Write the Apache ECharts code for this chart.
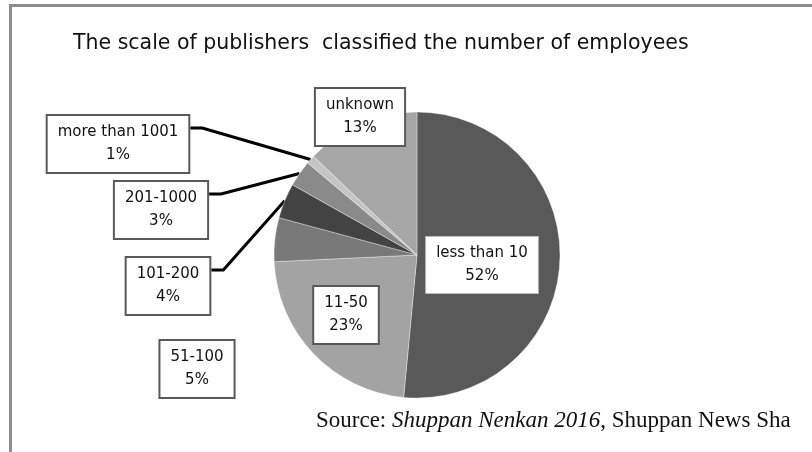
<!DOCTYPE html>
<html>
<head>
<meta charset="utf-8">
<script src="https://cdn.jsdelivr.net/npm/echarts@6/dist/echarts.min.js"></script>
<style>
  html, body { margin: 0; padding: 0; background: #fff; }
  #main { width: 812px; height: 452px; }
</style>
</head>
<body>
<div id="main"></div>
<script>
// data (percent of publishers)
const categories = ['less than 10', '11-50', '51-100', '101-200', '201-1000', 'more than 1001', 'unknown'];
const shares = [52, 23, 5, 4, 3, 1, 13];

// grey shades for the slices, same order as categories
const sliceColors = ['#595959', '#a3a3a3', '#797979', '#434343', '#8a8a8a', '#c4c4c4', '#a6a6a6'];

// where each label box sits (centre of box)
const labelCentres = [[482, 265], [346, 315], [197, 369], [168, 286], [161, 210], [118, 144], [360, 117]];
const withLeader = [3, 4, 5];

const cx = 417, cy = 255, R = 143;
const total = shares.reduce((a, b) => a + b, 0);

function arcPoint(i) {
  let before = 0;
  for (let k = 0; k < i; k++) before += shares[k];
  const a = (before + shares[i] / 2) / total * Math.PI * 2;
  return [cx + R * Math.sin(a), cy - R * Math.cos(a)];
}

let chart = echarts.init(document.getElementById('main'));

const option = {
  animation: false,
  title: {
    text: 'The scale of publishers  classified the number of employees',
    left: 68,
    top: 28,
    textStyle: { fontFamily: 'DejaVu Sans', fontSize: 20.5, fontWeight: 'normal', color: '#111' }
  },
  graphic: [
    {
      type: 'rect',
      shape: { x: 10.5, y: 5.5, width: 900, height: 600 },
      style: { fill: 'none', stroke: '#8c8c8c', lineWidth: 3 }
    },
    {
      type: 'text',
      left: 316,
      top: 409,
      style: {
        text: '{n|Source: }{i|Shuppan Nenkan 2016}{n|, Shuppan News Sha}',
        rich: {
          n: { fontFamily: 'Liberation Serif', fontSize: 23, fill: '#111' },
          i: { fontFamily: 'Liberation Serif', fontStyle: 'italic', fontSize: 23, fill: '#111' }
        }
      }
    }
  ],
  series: [
    {
      type: 'pie',
      center: [cx, cy],
      radius: R,
      startAngle: 90,
      clockwise: true,
      avoidLabelOverlap: false,
      itemStyle: { borderColor: 'rgba(255,255,255,0.35)', borderWidth: 1 },
      label: {
        show: true,
        formatter: '{b}\n{c}%',
        fontFamily: 'DejaVu Sans',
        fontSize: 15,
        lineHeight: 23,
        color: '#111',
        backgroundColor: '#fff',
        borderColor: '#595959',
        borderWidth: 2,
        padding: [5, 10]
      },
      labelLine: {
        show: false,
        lineStyle: { color: '#000', width: 3 }
      },
      labelLayout: function (params) {
        const i = params.dataIndex;
        const c = labelCentres[i];
        const w = params.labelRect.width, h = params.labelRect.height;
        const out = { x: c[0], y: c[1], align: 'center', verticalAlign: 'middle' };
        if (withLeader.indexOf(i) >= 0) {
          const right = c[0] + w / 2;
          const yy = c[1] - h / 2 + 14;
          out.labelLinePoints = [arcPoint(i), [right + 12, yy], [right, yy]];
        }
        return out;
      },
      data: categories.map((name, i) => ({
        name: name,
        value: shares[i],
        itemStyle: { color: sliceColors[i] },
        labelLine: { show: withLeader.indexOf(i) >= 0 },
        label: i === 0 ? { borderColor: '#bfbfbf', borderWidth: 1 } : {}
      }))
    }
  ]
};

chart.setOption(option);
</script>
</body>
</html>
